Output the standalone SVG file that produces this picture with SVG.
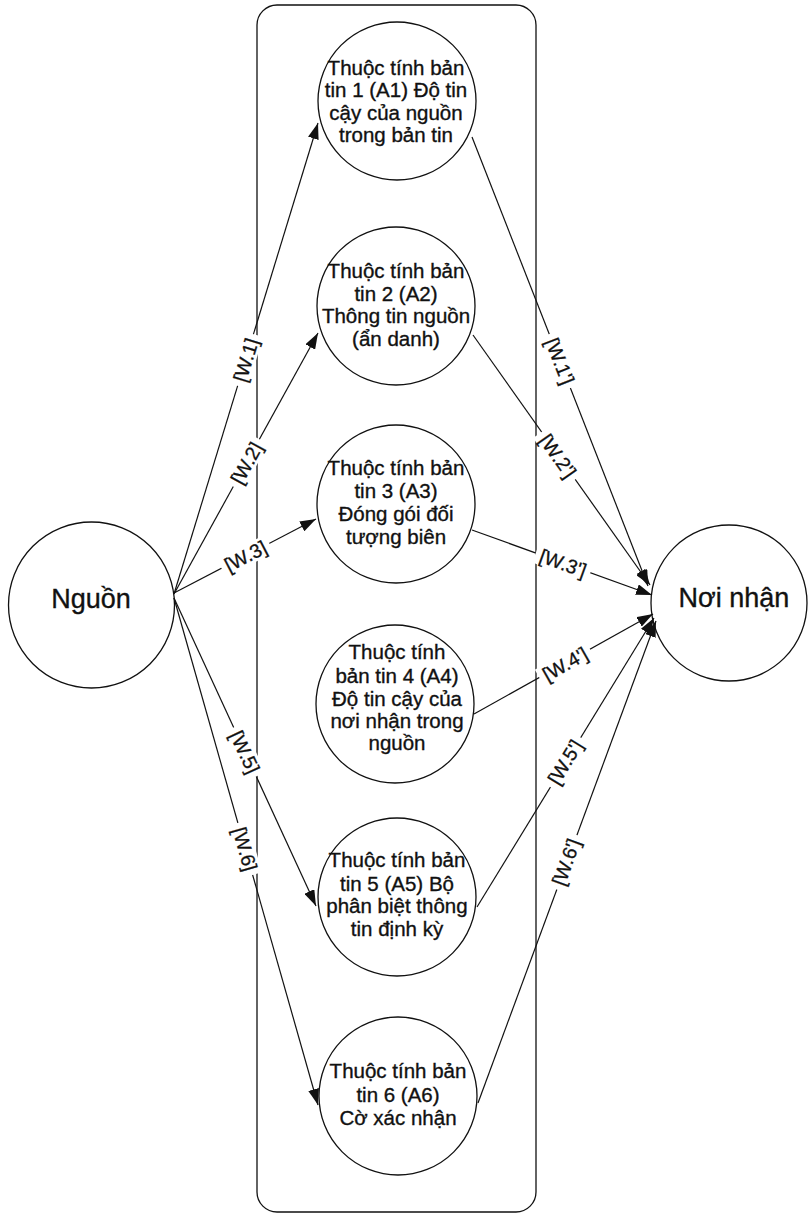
<svg xmlns="http://www.w3.org/2000/svg" width="808" height="1217" viewBox="0 0 808 1217">
<style>
.node{fill:#fff;stroke:#111;stroke-width:1.3}
.t{font-family:"Liberation Sans",Arial,sans-serif;font-size:20.5px;fill:#111;stroke:#111;stroke-width:0.35;text-anchor:middle}
.big{font-size:27px}
.edge{stroke:#111;stroke-width:1.2;fill:none;marker-end:url(#ah)}
.lbl{font-family:"Liberation Sans",Arial,sans-serif;font-size:19.5px;fill:#111;stroke:#111;stroke-width:0.3;text-anchor:middle}
.lb{fill:#fff}
</style>
<defs>
<marker id="ah" markerUnits="userSpaceOnUse" markerWidth="17" markerHeight="11" refX="16" refY="5.5" orient="auto">
<path d="M0,0 L16,5.5 L0,11 z" fill="#111"/>
</marker>
</defs>
<rect id="container" x="257" y="5" width="279" height="1207" rx="20" ry="20" fill="none" stroke="#111" stroke-width="1.3"/>
<g id="source"><circle class="node" cx="91.5" cy="605" r="83"/><text class="t big" x="91" y="608">Nguồn</text></g>
<g id="sink"><circle class="node" cx="729" cy="603" r="78"/><text class="t big" x="734" y="607">Nơi nhận</text></g>
<g id="a1"><circle class="node" cx="397" cy="101" r="79"/>
<text class="t" x="396" y="75">Thuộc tính bản</text><text class="t" x="396" y="97">tin 1 (A1) Độ tin</text><text class="t" x="396" y="119.5">cậy của nguồn</text><text class="t" x="396" y="142">trong bản tin</text></g>
<g id="a2"><circle class="node" cx="396" cy="306" r="79"/>
<text class="t" x="396" y="278">Thuộc tính bản</text><text class="t" x="396" y="301">tin 2 (A2)</text><text class="t" x="396" y="323">Thông tin nguồn</text><text class="t" x="396" y="346">(ẩn danh)</text></g>
<g id="a3"><circle class="node" cx="396" cy="504" r="79"/>
<text class="t" x="396" y="475">Thuộc tính bản</text><text class="t" x="396" y="498">tin 3 (A3)</text><text class="t" x="396" y="521">Đóng gói đối</text><text class="t" x="396" y="544">tượng biên</text></g>
<g id="a4"><circle class="node" cx="395" cy="704" r="79"/>
<text class="t" x="397" y="659">Thuộc tính</text><text class="t" x="397" y="683">bản tin 4 (A4)</text><text class="t" x="397" y="706">Độ tin cậy của</text><text class="t" x="397" y="728">nơi nhận trong</text><text class="t" x="397" y="750">nguồn</text></g>
<g id="a5"><circle class="node" cx="397" cy="897" r="79"/>
<text class="t" x="397" y="867">Thuộc tính bản</text><text class="t" x="397" y="891">tin 5 (A5) Bộ</text><text class="t" x="397" y="913">phân biệt thông</text><text class="t" x="397" y="936">tin định kỳ</text></g>
<g id="a6"><circle class="node" cx="398" cy="1096" r="79"/>
<text class="t" x="398" y="1078">Thuộc tính bản</text><text class="t" x="398" y="1102">tin 6 (A6)</text><text class="t" x="398" y="1125">Cờ xác nhận</text></g>
<g id="connectors">
<line class="edge" x1="174" y1="594" x2="318" y2="123"/>
<line class="edge" x1="174" y1="594" x2="318" y2="333"/>
<line class="edge" x1="174" y1="593" x2="316" y2="519"/>
<line class="edge" x1="174" y1="598" x2="316" y2="906"/>
<line class="edge" x1="174" y1="598" x2="318" y2="1105"/>
<line class="edge" x1="472" y1="137" x2="648" y2="586"/>
<line class="edge" x1="473" y1="335" x2="650" y2="585"/>
<line class="edge" x1="472" y1="530" x2="652" y2="595"/>
<line class="edge" x1="474" y1="714" x2="653" y2="614"/>
<line class="edge" x1="477" y1="907" x2="654" y2="618"/>
<line class="edge" x1="478" y1="1103" x2="656" y2="621"/>
<g transform="translate(245.7,360) rotate(-73)"><rect class="lb" x="-27" y="-10" width="54" height="20"/><text class="lbl" y="7">[W.1]</text></g>
<g transform="translate(246.5,463) rotate(-61)"><rect class="lb" x="-27" y="-10" width="54" height="20"/><text class="lbl" y="7">[W.2]</text></g>
<g transform="translate(245.5,556) rotate(-27.5)"><rect class="lb" x="-27" y="-10" width="54" height="20"/><text class="lbl" y="7">[W.3]</text></g>
<g transform="translate(245,752) rotate(65)"><rect class="lb" x="-27" y="-10" width="54" height="20"/><text class="lbl" y="7">[W.5]</text></g>
<g transform="translate(245,849) rotate(74)"><rect class="lb" x="-27" y="-10" width="54" height="20"/><text class="lbl" y="7">[W.6]</text></g>
<g transform="translate(560,361) rotate(68.6)"><rect class="lb" x="-29" y="-10" width="58" height="20"/><text class="lbl" y="7">[W.1']</text></g>
<g transform="translate(558,456) rotate(54.8)"><rect class="lb" x="-29" y="-10" width="58" height="20"/><text class="lbl" y="7">[W.2']</text></g>
<g transform="translate(563,563) rotate(19.8)"><rect class="lb" x="-29" y="-10" width="58" height="20"/><text class="lbl" y="7">[W.3']</text></g>
<g transform="translate(565,664) rotate(-29.6)"><rect class="lb" x="-29" y="-10" width="58" height="20"/><text class="lbl" y="7">[W.4']</text></g>
<g transform="translate(565,762) rotate(-58.5)"><rect class="lb" x="-29" y="-10" width="58" height="20"/><text class="lbl" y="7">[W.5']</text></g>
<g transform="translate(566,862) rotate(-69.9)"><rect class="lb" x="-29" y="-10" width="58" height="20"/><text class="lbl" y="7">[W.6']</text></g>
</g>
</svg>
